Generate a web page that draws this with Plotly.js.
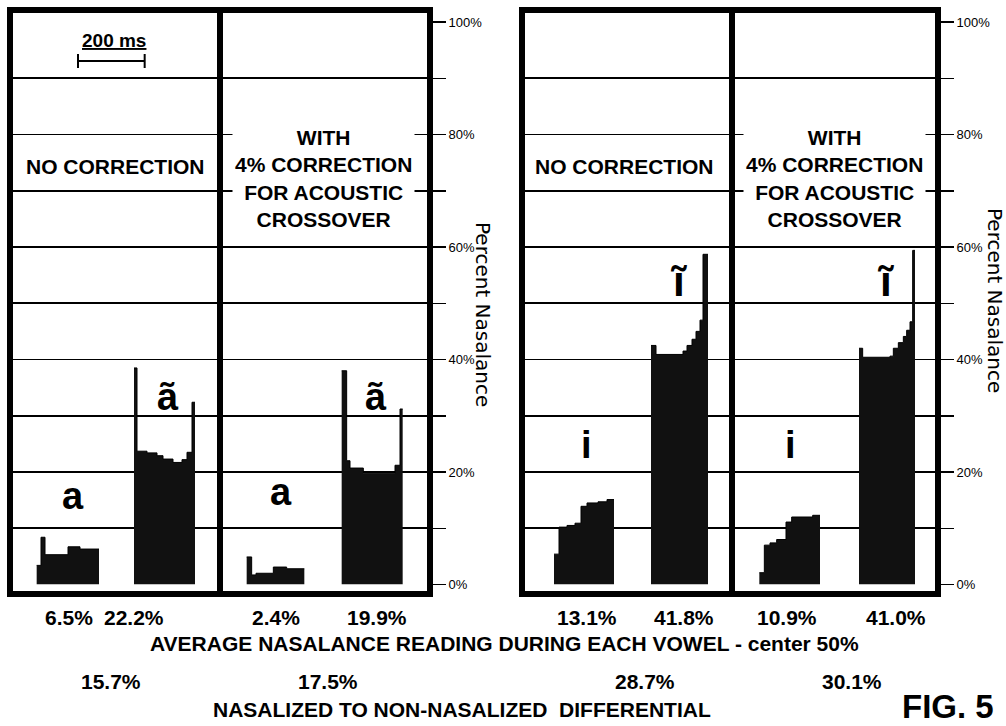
<!DOCTYPE html>
<html><head><meta charset="utf-8">
<script src="https://cdn.plot.ly/plotly-3.0.1.min.js"></script>
<style>html,body{margin:0;padding:0;background:#fff}#chart{width:1006px;height:726px}</style>
</head><body><div id="chart"></div>
<script>
// ---- DATA: nasalance traces (time in ms from panel start, percent nasalance per step) ----
const aNoCorrT    = [80, 93, 105, 174, 210, 267];
const aNoCorrV    = [3.4, 8.4, 5.3, 6.7, 6.3, 6.3];
const aNasNoCorrT = [372, 381, 411, 441, 459, 489, 516, 531, 546, 555];
const aNasNoCorrV = [38.5, 23.7, 23.4, 22.9, 22.3, 21.7, 22.2, 23.5, 32.4, 32.4];
const aCorrT      = [80, 95, 108, 160, 200, 253];
const aCorrV      = [4.9, 1.7, 2.0, 3.1, 2.8, 2.8];
const aNasCorrT   = [365, 380, 390, 430, 525, 540, 548];
const aNasCorrV   = [38.0, 22.0, 20.7, 19.8, 21.2, 31.2, 31.2];
const iNoCorrT    = [96, 111, 135, 159, 177, 195, 228, 255, 276];
const iNoCorrV    = [5.4, 10.2, 10.5, 10.9, 13.9, 14.5, 14.7, 15.1, 15.1];
const iNasNoCorrT = [387, 402, 483, 495, 510, 522, 534, 543, 558];
const iNasNoCorrV = [42.5, 40.9, 41.5, 42.5, 43.6, 45.0, 47.0, 58.7, 58.7];
const iCorrT      = [82, 97, 114, 134, 162, 179, 242, 264];
const iCorrV      = [2.1, 7.0, 7.4, 8.0, 11.1, 12.0, 12.3, 12.3];
const iNasCorrT   = [381, 392, 474, 484, 499, 514, 524, 534, 542, 549];
const iNasCorrV   = [42.0, 40.4, 40.6, 42.0, 43.0, 44.1, 45.2, 46.7, 59.4, 59.4];

const panelTitles = ['NO CORRECTION', 'WITH<br>4% CORRECTION<br>FOR ACOUSTIC<br>CROSSOVER',
                     'NO CORRECTION', 'WITH<br>4% CORRECTION<br>FOR ACOUSTIC<br>CROSSOVER'];
const vowelLabels = ['a', 'ã', 'a', 'ã', 'i', 'ĩ', 'i', 'ĩ'];
const avgLabels   = ['6.5%', '22.2%', '2.4%', '19.9%', '13.1%', '41.8%', '10.9%', '41.0%'];
const diffLabels  = ['15.7%', '17.5%', '28.7%', '30.1%'];
const avgCaption  = 'AVERAGE NASALANCE READING DURING EACH VOWEL - center 50%';
const diffCaption = 'NASALIZED TO NON-NASALIZED\u00a0 DIFFERENTIAL';
const axisTitle   = 'Percent Nasalance';
const figLabel    = 'FIG. 5';
const scaleLabel  = '200 ms';
const scaleMs     = 200;
const yTickVals   = [0, 20, 40, 60, 80, 100];
const yTickText   = ['0%', '20%', '40%', '60%', '80%', '100%'];

// ---- LAYOUT helpers (pixel geometry) ----
const W = 1006, H = 726;
const X = p => p / W;
const Y = p => 1 - p / H;
const MS_PER_PX = 3;
const panelsPx = [[10, 220], [220, 430], [522, 732], [732, 938]];
const FONT = 'Liberation Sans, Arial, sans-serif';

const series = [
  [aNoCorrT, aNoCorrV, 0], [aNasNoCorrT, aNasNoCorrV, 0],
  [aCorrT, aCorrV, 1], [aNasCorrT, aNasCorrV, 1],
  [iNoCorrT, iNoCorrV, 2], [iNasNoCorrT, iNasNoCorrV, 2],
  [iCorrT, iCorrV, 3], [iNasCorrT, iNasCorrV, 3]
];
const xNames = ['x', 'x2', 'x3', 'x4'];
const yNames = ['y', 'y', 'y2', 'y2'];

const traces = series.map(([t, v, p]) => ({
  type: 'scatter', mode: 'lines', x: t, y: v,
  xaxis: xNames[p], yaxis: yNames[p],
  line: {shape: 'hv', color: '#000', width: 1},
  fill: 'tozeroy', fillcolor: '#111',
  hoverinfo: 'skip', showlegend: false
}));

const layout = {
  width: W, height: H,
  margin: {l: 0, r: 0, t: 0, b: 0},
  paper_bgcolor: '#fff', plot_bgcolor: 'rgba(0,0,0,0)',
  showlegend: false,
  shapes: [], annotations: []
};

panelsPx.forEach(([a, b], i) => {
  const key = i === 0 ? 'xaxis' : 'xaxis' + (i + 1);
  layout[key] = {
    domain: [X(a), X(b)], range: [0, (b - a) * MS_PER_PX],
    visible: false, fixedrange: true, anchor: yNames[i]
  };
});

function yAxis(anchor) {
  return {
    domain: [Y(584.5), Y(22)], range: [0, 100], anchor: anchor, side: 'right',
    tickmode: 'array', tickvals: yTickVals, ticktext: yTickText,
    ticks: 'outside', ticklen: 15, tickwidth: 1.5,
    tickcolor: '#000', showgrid: true, gridcolor: '#000', gridwidth: 1.6,
    zeroline: false, showline: false, fixedrange: true,
    tickfont: {family: FONT, size: 13, color: '#000'},
    minor: {dtick: 10, tick0: 0, ticks: 'outside', ticklen: 15, tickwidth: 1.5, tickcolor: '#000',
            showgrid: true, gridcolor: '#000', gridwidth: 1.6}
  };
}
layout.yaxis = yAxis('x2');
layout.yaxis2 = yAxis('x4');

// panel frames
[[10, 430, 220], [522, 938, 732]].forEach(([l, r, d]) => {
  layout.shapes.push({type: 'rect', xref: 'paper', yref: 'paper', x0: X(l), x1: X(r), y0: Y(594), y1: Y(10),
                      line: {color: '#000', width: 6}});
  layout.shapes.push({type: 'line', xref: 'paper', yref: 'paper', x0: X(d), x1: X(d), y0: Y(594), y1: Y(10),
                      line: {color: '#000', width: 6}});
});
// 200 ms scale bar, drawn in the time units of the first panel
const sb0 = 204, sb1 = sb0 + scaleMs;
layout.shapes.push({type: 'line', xref: 'x', yref: 'paper', x0: sb0, x1: sb1, y0: Y(61), y1: Y(61), line: {color: '#000', width: 2}});
layout.shapes.push({type: 'line', xref: 'x', yref: 'paper', x0: sb0, x1: sb0, y0: Y(54), y1: Y(68), line: {color: '#000', width: 2}});
layout.shapes.push({type: 'line', xref: 'x', yref: 'paper', x0: sb1, x1: sb1, y0: Y(54), y1: Y(68), line: {color: '#000', width: 2}});

function ann(text, x, y, size, extra) {
  return Object.assign({
    text: text, xref: 'paper', yref: 'paper', x: X(x), y: Y(y),
    xanchor: 'center', yanchor: 'middle', showarrow: false,
    font: {family: FONT, size: size, color: '#000', weight: 'bold'}
  }, extra || {});
}
const A = layout.annotations;
A.push(ann('<u>' + scaleLabel + '</u>', 114, 40, 19));
const titlePos = [[115, 167], [323.5, 178.5], [624, 167], [834.5, 178.5]];
panelTitles.forEach((t, i) => A.push(ann(t, titlePos[i][0], titlePos[i][1], 21, {bgcolor: '#fff', borderpad: 2})));

const vowelPos = [[73, 496], [168, 397], [281, 492], [376, 397], [586, 445], [678, 281], [790, 445], [885, 281]];
const vowelSize = [38, 38, 38, 38, 38, 42, 38, 42];
vowelLabels.forEach((t, i) => A.push(ann(t, vowelPos[i][0], vowelPos[i][1], vowelSize[i])));

const avgPos = [69, 134, 276, 377, 587, 684, 787, 896];
avgLabels.forEach((t, i) => A.push(ann(t, avgPos[i], 617, 21)));
A.push(ann(avgCaption, 504.5, 643, 21));
const diffPos = [111, 328, 645, 852];
diffLabels.forEach((t, i) => A.push(ann(t, diffPos[i], 681, 21)));
A.push(ann(diffCaption, 461.5, 709, 21));
A.push(Object.assign(ann(figLabel, 948, 726, 33), {y: 0, yanchor: 'bottom', borderpad: 0}));

const titleFont = {family: 'DejaVu Sans, Liberation Sans, sans-serif', size: 20, color: '#000'};
A.push(ann(axisTitle, 483, 314, 20, {textangle: 90, font: titleFont}));
A.push(ann(axisTitle, 995, 300, 20, {textangle: 90, font: titleFont}));

Plotly.newPlot('chart', traces, layout, {displayModeBar: false, staticPlot: true});
</script>
</body></html>
